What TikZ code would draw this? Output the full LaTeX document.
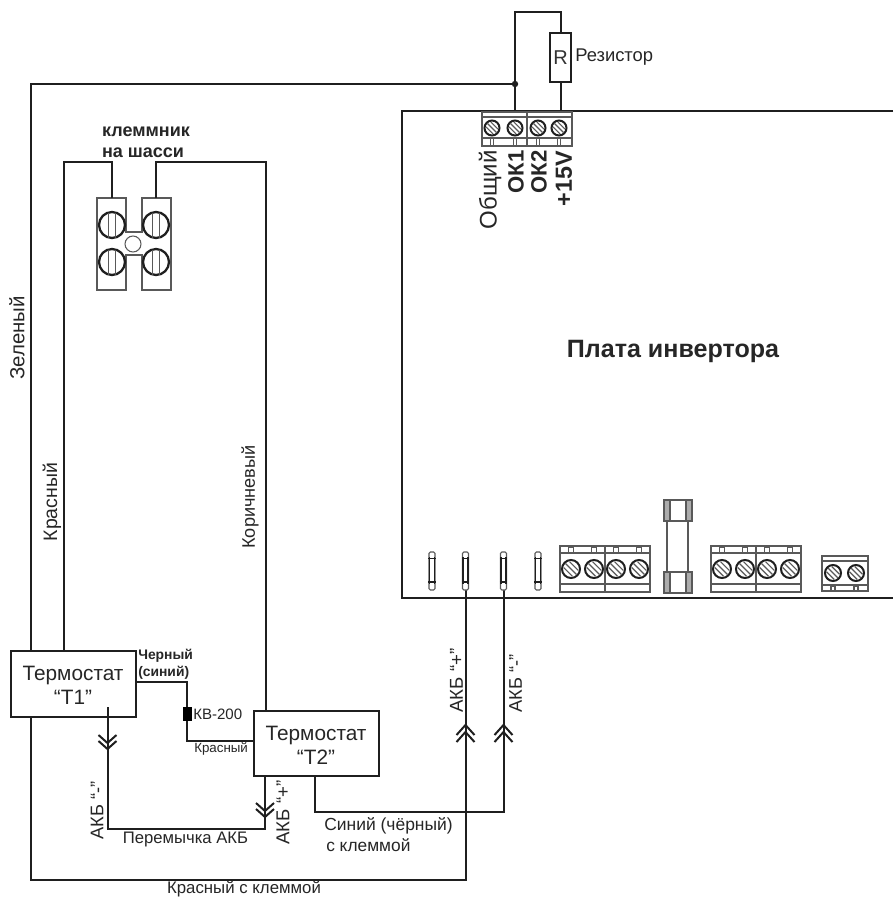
\documentclass[tikz,border=0pt]{standalone}
\usepackage{fontspec}
\setmainfont{Liberation Sans}
\definecolor{wire}{gray}{0.12}
\definecolor{part}{gray}{0.35}
\tikzset{
  wireline/.style={draw=wire,line width=1.5pt,line join=miter},
  boxed/.style={draw=wire,line width=1.5pt,fill=white,align=center,inner sep=0pt,anchor=north west},
  thin part/.style={draw=part,line width=0.8pt},
  lab/.style={inner sep=0pt,text=black!85,font=\fontsize{12}{14}\selectfont},
  vlab/.style={lab,rotate=90},
  screw/.style={draw=wire,line width=1.5pt,fill=white},
}
% hatched screw: #3 radius, stripes falling left to right
\newcommand{\hatchscrew}[3]{%
  \begin{scope}[shift={(#1,#2)},yscale=-1]
  \draw[screw] (0,0) circle (#3);
  \draw[part,line width=0.9pt] (-#3*0.62,#3*0.62) -- (#3*0.62,-#3*0.62);
  \draw[part,line width=0.9pt] (-#3*0.8,#3*0.15) -- (#3*0.15,-#3*0.8);
  \draw[part,line width=0.9pt] (-#3*0.15,#3*0.8) -- (#3*0.8,-#3*0.15);
  \end{scope}
}
\newcommand{\chassisscrew}[2]{%
  \draw[screw,line width=1.7pt] (#1,#2) circle (13);
  \draw[part,line width=0.7pt] (#1-3.5,#2-12.5) -- (#1-3.5,#2+12.5) (#1+3.5,#2-12.5) -- (#1+3.5,#2+12.5);
}
\newcommand{\pin}[1]{%
  \draw[thin part,fill=white,rounded corners=1] (#1-3,552) rectangle (#1+3,590);
  \draw[wire,line width=1pt] (#1-2.4,557) -- (#1-2.4,584) (#1+2.4,557) -- (#1+2.4,584);
  \draw[wire,line width=1.2pt] (#1-3.7,558.5) -- (#1+3.7,558.5) (#1-3.7,582) -- (#1+3.7,582);
}
\newcommand{\bigblock}[1]{%
  \draw[thin part] (#1,546) rectangle (#1+90,592);
  \draw[thin part] (#1+45,546) -- (#1+45,592);
  \draw[thin part] (#1,553) -- (#1+90,553) (#1,584) -- (#1+90,584);
  \foreach \o in {11,34,56,79}{
    \draw[thin part] (#1+\o-2.5,547) rectangle (#1+\o+2.5,553);
    \hatchscrew{#1+\o}{569}{9}
  }
}
\newcommand{\chevdown}[2]{%
  \draw[wireline] (#1-9,#2) -- (#1,#2+8) -- (#1+9,#2);
  \draw[wireline] (#1-9,#2+6) -- (#1,#2+14) -- (#1+9,#2+6);
}
\newcommand{\chevup}[2]{%
  \draw[wireline] (#1-9,#2+10) -- (#1,#2) -- (#1+9,#2+10);
  \draw[wireline] (#1-9,#2+17) -- (#1,#2+7) -- (#1+9,#2+17);
}
\begin{document}
\begin{tikzpicture}[x=0.75pt,y=-0.75pt]
\useasboundingbox (0,0) rectangle (893,899);
\fill[white] (0,0) rectangle (893,899);

% inverter board
\draw[draw=wire,line width=1.7pt] (893,111) -- (402,111) -- (402,598) -- (893,598);
\node[inner sep=0pt,font=\bfseries\fontsize{18.8}{20}\selectfont,text=black!85] (board) at (673,351) {Плата инвертора};

% top terminal block
\draw[thin part] (482,112) rectangle (572,146);
\draw[thin part] (527,112) -- (527,146);
\draw[thin part] (482,117) -- (572,117) (482,138) -- (572,138);
\foreach \x in {492,515,538,559}{
  \hatchscrew{\x}{128}{7.5}
  \draw[thin part] (\x-1.5,138) rectangle (\x+1.5,146);
}
\node[vlab,anchor=east,font=\fontsize{18}{20}\selectfont] (t1) at (490,150) {Общий};
\node[vlab,anchor=east,font=\bfseries\fontsize{16.6}{18}\selectfont] (t2) at (516,150) {ОК1};
\node[vlab,anchor=east,font=\bfseries\fontsize{16.6}{18}\selectfont] (t3) at (539,150) {ОК2};
\node[vlab,anchor=east,font=\bfseries\fontsize{17.5}{19}\selectfont] (t4) at (564,151) {+15V};

% resistor
\node[boxed,minimum width=21*0.75pt,minimum height=49*0.75pt,font=\fontsize{15}{17}\selectfont,text=black!80] (res) at (549,32) {R};
\node[lab,anchor=west,font=\fontsize{13.8}{15}\selectfont] (reslab) at (575,57) {Резистор};
\coordinate (j) at (515,84);
\coordinate (okone) at (515,111);
\coordinate (vplus) at (res.south |- okone);
\coordinate (rtop) at (515,12);
\draw[wireline] (okone) -- (j) -- (rtop) -| (res.north);
\draw[wireline] (res.south) -- (vplus);
\fill[wire] (j) circle (3.2);

% chassis terminal
\node[inner sep=0pt,font=\bfseries\fontsize{13.5}{16}\selectfont,align=left,text=black!85] (chlab) at (146,142) {клеммник\\на шасси};
\draw[thin part,fill=white] (97,198) -- (126,198) -- (126,232) -- (142,232) -- (142,198) -- (171,198) -- (171,290) -- (142,290) -- (142,255) -- (126,255) -- (126,290) -- (97,290) -- cycle;
\draw[thin part] (133,244) circle (8);
\chassisscrew{112}{225}
\chassisscrew{112}{262}
\chassisscrew{156}{225}
\chassisscrew{156}{262}
\coordinate (chL) at (112,198);
\coordinate (chR) at (156,198);

% thermostats
\node[boxed,minimum width=125*0.75pt,minimum height=66*0.75pt,text=black!85] (T1) at (10,650) {};
\node[inner sep=0pt,align=center,font=\fontsize{15.6}{18}\selectfont,text=black!85] (T1t) at (73,685) {Термостат\\“T1”};
\node[boxed,minimum width=125*0.75pt,minimum height=65*0.75pt,text=black!85] (T2) at (253,710) {};
\node[inner sep=0pt,align=center,font=\fontsize{15.6}{18}\selectfont,text=black!85] (T2t) at (316,745) {Термостат\\“T2”};

% wires
\coordinate (a) at (64,162);
\coordinate (b) at (266,162);
\coordinate (t1g) at (31,650);
\coordinate (t1r) at (64,650);
\coordinate (t2b) at (266,710);
\draw[wireline] (t1r) -- (a) -| (chL);
\draw[wireline] (chR) |- (b) -- (t2b);
\draw[wireline] (t1g) |- (j);
% red with clip
\coordinate (bl) at (31,716);
\coordinate (br) at (465.5,880);
\coordinate (pinA) at (465.5,590);
\coordinate (pinB) at (503.5,590);
\draw[wireline] (bl) |- (br) -- (pinA);
\coordinate (t2c) at (315,775);
\coordinate (t2cr) at (503.5,812);
\draw[wireline] (t2c) |- (t2cr) -- (pinB);
% jumper
\coordinate (jm) at (107.5,707);
\coordinate (jb) at (107.5,829);
\coordinate (jr) at (265,829);
\coordinate (t2j) at (265,775);
\draw[wireline] (jm) -- (jb) -- (jr) -- (t2j);
\chevdown{107.5}{735}
\chevdown{265}{803}
\chevup{465.5}{725}
\chevup{503.5}{725}
% black / red
\coordinate (k1) at (187,682);
\coordinate (k2) at (187,741);
\draw[wireline] (135,682) -- (k1) -- (k2) -- (253,741);
\fill[black] (183,707) rectangle (192,721);

% board pins and blocks
\pin{432}\pin{465.5}\pin{503.5}\pin{538}
\bigblock{560}
\bigblock{711}
% fuse
\draw[thin part] (667,519) -- (667,574) (688,519) -- (688,574);
\draw[thin part,fill=white] (664,500) rectangle (692,521);
\draw[thin part,fill=part!50] (664,500) rectangle (670,521) (686,500) rectangle (692,521);
\draw[thin part,fill=white] (664,572) rectangle (692,593);
\draw[thin part,fill=part!50] (664,572) rectangle (670,593) (686,572) rectangle (692,593);
% small block
\draw[thin part] (822,556) rectangle (868,591);
\draw[thin part] (822,561) -- (868,561) (822,585) -- (868,585);
\hatchscrew{833}{573}{8}
\hatchscrew{856}{573}{8}
\foreach \x in {833,856}{\draw[thin part] (\x-2,586) rectangle (\x+2,591);}

% labels
\node[vlab,font=\fontsize{15.3}{17}\selectfont] (l1) at (17,338) {Зеленый};
\node[vlab,font=\fontsize{14.6}{16}\selectfont] (l2) at (52,502) {Красный};
\node[vlab,font=\fontsize{13.6}{15}\selectfont] (l3) at (250,497) {Коричневый};
\node[lab,anchor=west,font=\bfseries\fontsize{10.4}{12}\selectfont] (l4) at (138,656) {Черный};
\node[lab,anchor=west,font=\bfseries\fontsize{10.4}{12}\selectfont] (l5) at (138,673) {(синий)};
\node[lab,anchor=west,font=\fontsize{11.3}{13}\selectfont] (l6) at (193,714) {КВ-200};
\node[lab,anchor=west,font=\fontsize{10}{12}\selectfont] (l7) at (194,749) {Красный};
\node[vlab,anchor=west,font=\fontsize{13.7}{15}\selectfont] (l8) at (97,840) {АКБ “-”};
\node[vlab,anchor=west,font=\fontsize{14}{16}\selectfont] (l9) at (283,845) {АКБ “+”};
\node[lab,font=\fontsize{12.5}{14}\selectfont] (l10) at (185.5,839) {Перемычка АКБ};
\node[lab,anchor=west,font=\fontsize{13.1}{15}\selectfont] (l11) at (324,826) {Синий (чёрный)};
\node[lab,anchor=west,font=\fontsize{13}{15}\selectfont] (l12) at (326,845) {с клеммой};
\node[lab,font=\fontsize{12.6}{14}\selectfont] (l13) at (244,889) {Красный с клеммой};
\node[vlab,anchor=west,font=\fontsize{14}{16}\selectfont] (l14) at (456.5,713) {АКБ “+”};
\node[vlab,anchor=west,font=\fontsize{13.7}{15}\selectfont] (l15) at (515.5,713) {АКБ “-”};
\end{tikzpicture}
\end{document}
